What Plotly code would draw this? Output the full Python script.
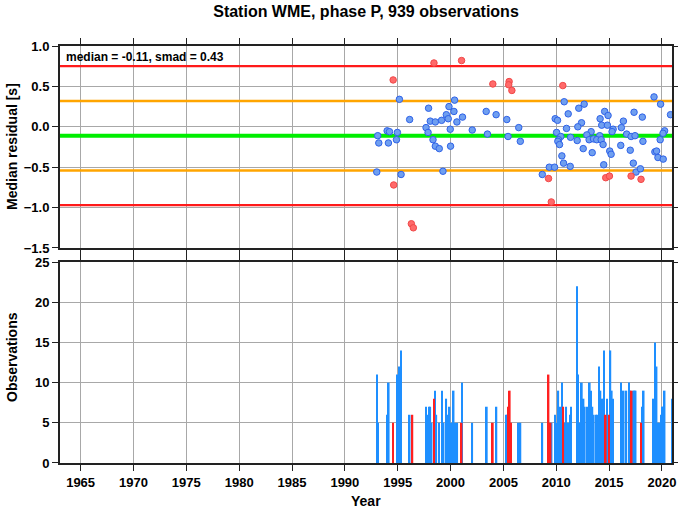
import plotly.graph_objects as go

# ---------------- data ----------------
median = -0.11
smad = 0.43
x_range = [1963.05, 2020.95]
x_ticks = [1965, 1970, 1975, 1980, 1985, 1990, 1995, 2000, 2005, 2010, 2015, 2020]

blue_year = [1995.16, 2000.38, 1997.92, 1999.85, 2000.32, 1999.60, 2001.13, 1999.78, 2000.60, 1996.13,
             1998.08, 1998.56, 1999.15, 1997.68, 1997.87, 1999.97, 2002.05, 2003.37, 2004.31, 2003.49,
             2005.32, 2006.45, 2005.44, 2006.60, 1993.11, 1994.00, 1994.22, 1994.97, 1993.21, 1994.12,
             1994.88, 1998.34, 1998.56, 1998.93, 2000.00, 1993.02, 1995.32, 1999.28,
             2019.25, 2019.87, 2020.81, 2010.75, 2012.64, 2012.13, 2011.13, 2009.90, 2010.12, 2014.58,
             2014.90, 2014.15, 2012.39, 2012.04, 2010.97, 2014.30, 2014.84, 2016.35, 2017.36, 2018.14,
             2016.16, 2015.38, 2015.28, 2013.30, 2010.03, 2012.89, 2010.43, 2011.35, 2014.11, 2016.66,
             2017.08, 2017.45, 2020.25, 2020.10, 2010.22, 2010.15, 2010.31, 2013.11, 2013.52, 2013.83,
             2014.25, 2014.43, 2011.98, 2012.55, 2013.40, 2015.06, 2015.19, 2017.00, 2018.20, 2019.83,
             2019.33, 2019.49, 2019.62, 2020.12, 2010.53, 2010.69, 2011.32, 2009.34, 2009.84, 2008.68,
             2014.49, 2016.10, 2017.29, 2017.55, 2017.96]
blue_resid = [0.34, 0.33, 0.23, 0.25, 0.19, 0.15, 0.12, 0.10, 0.06, 0.09,
              0.07, 0.06, 0.08, -0.01, -0.07, -0.03, -0.04, 0.19, 0.15, -0.09,
              0.09, -0.01, -0.12, -0.18, -0.11, -0.05, -0.06, -0.07, -0.20, -0.20,
              -0.16, -0.16, -0.24, -0.27, -0.24, -0.56, -0.59, -0.55,
              0.37, 0.28, 0.15, 0.31, 0.28, 0.23, 0.16, 0.10, 0.08, 0.19,
              0.14, 0.10, 0.05, 0.00, -0.02, 0.02, 0.02, 0.07, 0.18, 0.12,
              -0.01, -0.03, -0.06, -0.06, -0.07, -0.10, -0.12, -0.13, -0.11, -0.09,
              -0.12, -0.11, -0.05, -0.08, -0.16, -0.18, -0.22, -0.16, -0.15, -0.16,
              -0.16, -0.22, -0.17, -0.27, -0.32, -0.30, -0.34, -0.29, -0.18, -0.16,
              -0.31, -0.30, -0.38, -0.40, -0.36, -0.45, -0.49, -0.50, -0.50, -0.59,
              -0.47, -0.23, -0.45, -0.56, -0.52]

red_year = [1998.43, 2001.04, 1994.57, 2004.00, 2005.54, 2005.50, 2005.80, 1994.62, 1996.29, 1996.48,
            2010.62, 2009.27, 2009.53, 2014.68, 2015.03, 2017.08, 2018.02]
red_resid = [0.79, 0.82, 0.58, 0.53, 0.56, 0.52, 0.45, -0.72, -1.20, -1.25,
             0.51, -0.64, -0.93, -0.63, -0.61, -0.61, -0.65]

bar_blue_year = [1993.05, 1993.15, 1994.00, 1994.15, 1994.94, 1995.13, 1995.32, 1996.13, 1997.68, 1997.83,
                 1997.96, 1998.08, 1998.21, 1998.53, 1998.65, 1998.90, 1999.19, 1999.34, 1999.59, 1999.75,
                 1999.91, 2000.03, 2000.29, 2000.47, 2000.63, 2001.10, 2002.05, 2003.43, 2004.34, 2005.32,
                 2005.41, 2006.45, 2006.61, 2008.68, 2009.56, 2009.90, 2010.03, 2010.19, 2010.31, 2010.41,
                 2010.53, 2010.78, 2010.94, 2011.10, 2011.29, 2011.38, 2011.95, 2012.07, 2012.23, 2012.42,
                 2012.58, 2012.70, 2012.92, 2013.17, 2013.30, 2013.42, 2013.55, 2013.77, 2013.93, 2014.05,
                 2014.18, 2014.30, 2014.43, 2014.53, 2014.81, 2015.12, 2015.25, 2015.37, 2016.13, 2016.22,
                 2016.38, 2016.63, 2016.88, 2017.01, 2017.26, 2017.42, 2017.51, 2018.14, 2018.27, 2019.21,
                 2019.34, 2019.49, 2019.62, 2019.78, 2019.90, 2020.03, 2020.16, 2020.25, 2020.94]
bar_blue_count = [11, 5, 6, 10, 11, 12, 14, 6, 7, 6,
                  7, 7, 5, 9, 6, 5, 9, 5, 8, 6,
                  7, 5, 9, 5, 5, 10, 5, 7, 7, 6,
                  6, 5, 5, 5, 5, 6, 5, 9, 6, 7,
                  10, 5, 7, 5, 6, 7, 22, 11, 5, 10,
                  8, 7, 7, 10, 9, 7, 6, 6, 6, 12,
                  9, 8, 8, 14, 8, 14, 9, 8, 10, 6,
                  9, 9, 10, 9, 9, 9, 9, 7, 9, 8,
                  15, 12, 5, 5, 6, 7, 7, 9, 8]

bar_red_year = [1994.56, 1996.39, 1998.43, 2001.04, 2004.00, 2005.51, 2005.60, 2005.73, 2009.27, 2009.46,
                2010.66, 2014.68, 2015.00, 2017.13, 2018.02]
bar_red_count = [5, 6, 8, 5, 5, 7, 9, 5, 11, 5,
                 7, 6, 6, 9, 5]

# ---------------- figure ----------------
FONT = "Liberation Sans, Arial, Helvetica, sans-serif"
fig = go.Figure()

levels = [
    (median + 2 * smad, "#ff1a1a", 2.2),
    (median - 2 * smad, "#ff1a1a", 2.2),
    (median + smad, "#ffa500", 2.5),
    (median - smad, "#ffa500", 2.5),
    (median, "#00ee00", 4),
]
for val, col, w in levels:
    fig.add_trace(go.Scatter(x=x_range, y=[val, val], mode="lines",
                             line=dict(color=col, width=w), hoverinfo="skip",
                             showlegend=False, xaxis="x", yaxis="y"))

fig.add_trace(go.Scatter(x=blue_year, y=blue_resid, mode="markers",
                         marker=dict(size=6.5, color="#6f9ff0",
                                     line=dict(color="#2f62e8", width=1)),
                         showlegend=False, xaxis="x", yaxis="y"))
fig.add_trace(go.Scatter(x=red_year, y=red_resid, mode="markers",
                         marker=dict(size=6.5, color="#ff6a6a",
                                     line=dict(color="#f04848", width=1)),
                         showlegend=False, xaxis="x", yaxis="y"))

fig.add_trace(go.Bar(x=bar_blue_year, y=bar_blue_count, width=0.16,
                     marker=dict(color="#1e8fff", line=dict(width=0)),
                     showlegend=False, xaxis="x2", yaxis="y2"))
fig.add_trace(go.Bar(x=bar_red_year, y=bar_red_count, width=0.16,
                     marker=dict(color="#ff2020", line=dict(width=0)),
                     showlegend=False, xaxis="x2", yaxis="y2"))

axis_common = dict(
    showline=True, linecolor="#222222", linewidth=2, mirror="ticks",
    ticks="outside", ticklen=6, tickwidth=1, tickcolor="#222222",
    showgrid=True, gridcolor="#a8a8a8", gridwidth=1, zeroline=False,
    automargin=False,
    tickfont=dict(family=FONT, size=13, color="black", weight="bold"),
)

# plot area geometry in pixels (for placing axis titles)
W, H = 678, 511
L, R, T, B = 60, 6, 46, 48
pw, ph = W - L - R, H - T - B

def px_x(px):
    return (px - L) / pw

def px_y(py):
    return (H - B - py) / ph

title_font = dict(family=FONT, size=14, color="black", weight="bold")

fig.update_layout(
    width=W, height=H,
    margin=dict(l=L, r=R, t=T, b=B),
    paper_bgcolor="white", plot_bgcolor="white",
    barmode="overlay",
    font=dict(family=FONT, color="black"),
    title=dict(text="Station WME, phase P, 939 observations",
               x=0.5, xref="paper", xanchor="center",
               y=1 - 11 / H, yref="container", yanchor="middle",
               font=dict(family=FONT, size=16, color="black", weight="bold")),
    xaxis=dict(range=x_range, tickvals=x_ticks, showticklabels=False,
               anchor="y", **axis_common),
    yaxis=dict(range=[-1.5, 1.0], dtick=0.5, tick0=0, tickformat=".1f",
               domain=[0.5156, 1.0], anchor="x", **axis_common),
    xaxis2=dict(range=x_range, tickvals=x_ticks, anchor="y2", **axis_common),
    yaxis2=dict(range=[0, 25], dtick=5, tick0=0, domain=[0.0, 0.482], anchor="x2",
                **axis_common),
    annotations=[
        dict(text="median = %.2f, smad = %.2f" % (median, smad),
             xref="paper", yref="paper", x=px_x(64), y=px_y(48),
             xanchor="left", yanchor="top", showarrow=False,
             font=dict(family=FONT, size=12, color="black", weight="bold")),
        dict(text="Median residual [s]", textangle=-90,
             xref="paper", yref="paper", x=px_x(12), y=px_y(147),
             xanchor="center", yanchor="middle", showarrow=False, font=title_font),
        dict(text="Observations", textangle=-90,
             xref="paper", yref="paper", x=px_x(12), y=px_y(357),
             xanchor="center", yanchor="middle", showarrow=False, font=title_font),
        dict(text="Year",
             xref="paper", yref="paper", x=0.5, y=px_y(501),
             xanchor="center", yanchor="middle", showarrow=False,
             font=dict(family=FONT, size=14, color="black", weight="bold")),
    ],
)

fig.write_html("out.html",
               config={"displayModeBar": False},
               post_script="document.body.style.margin='0';document.body.style.overflow='hidden';")
